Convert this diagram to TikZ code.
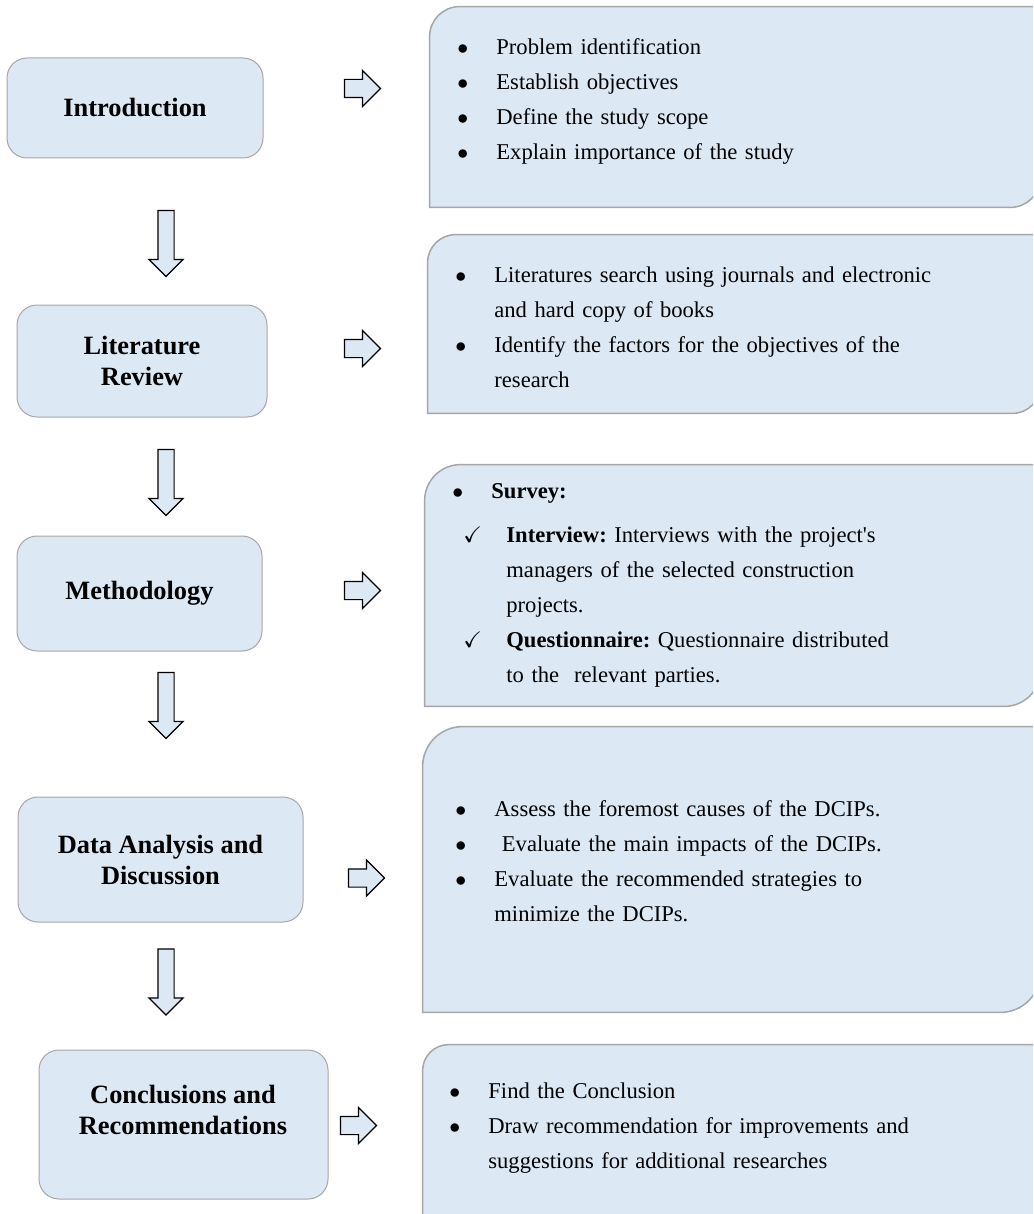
\documentclass[tikz,border=0pt]{standalone}
\usepackage{fontspec}
\setmainfont{Liberation Serif}
\usepackage{amssymb}
\usetikzlibrary{shapes.arrows}

\definecolor{boxfill}{HTML}{DDE8F5}
\definecolor{boxline}{HTML}{A6A6A6}

\newcommand{\bitem}[1]{\par\noindent\hangindent=19.5pt\hangafter=1\strut\makebox[19.5pt][l]{$\bullet$}#1}
\newcommand{\citem}[1]{\par\noindent\hangindent=27pt\hangafter=1\strut\makebox[27pt][l]{\hspace{5.5pt}$\checkmark$}#1}
\newcommand{\infoframe}[2]{%
	\draw[frame] ([yshift=-#2]#1.north west) arc[start angle=180,end angle=90,radius=#2]
		-- (#1.north east) -- ([yshift=#2]#1.south east) arc[start angle=0,end angle=-90,radius=#2]
		-- (#1.south west) -- cycle;}

\begin{document}
\begin{tikzpicture}[
	x=0.5pt, y=0.5pt,
	stage/.style={ rectangle, rounded corners=10pt, draw=boxline, line width=0.5pt, fill=boxfill, inner sep=0pt, align=center, font=\fontsize{13.2}{15.5}\selectfont\bfseries },
	stagetext/.style={ inner sep=0pt, align=center, font=\fontsize{13.2}{15.5}\selectfont\bfseries },
	infobox/.style={ rectangle, inner sep=0pt },
	frame/.style={ draw=boxline, line width=0.75pt, fill=boxfill },
	points/.style={ anchor=north west, inner sep=0pt, text width=280pt, align=left, font=\fontsize{11.3}{17.5}\selectfont\frenchspacing },
	downarrow/.style={ single arrow, draw, fill=boxfill, line width=0.6pt, rotate=-90, minimum height=33pt, inner xsep=0pt, inner ysep=3.75pt, single arrow head extend=4.5pt },
	rightarrow/.style={ single arrow, draw, fill=boxfill, line width=0.6pt, minimum height=18pt, inner xsep=0pt, inner ysep=4.25pt, single arrow head extend=4.5pt }
]
\clip (0,0) rectangle (1033,-1214);

% right hand boxes
\node at (735,-107) (info1) [infobox, minimum width=305pt, minimum height=100pt] {};
\node at (734,-324) (info2) [infobox, minimum width=306pt, minimum height=89pt] {};
\node at (732.5,-585.5) (info3) [infobox, minimum width=307.5pt, minimum height=120.5pt] {};
\node at (731.5,-869.5) (info4) [infobox, minimum width=308.5pt, minimum height=142.5pt] {};
\node at (731.5,-1147.5) (info5) [infobox, minimum width=308.5pt, minimum height=102.5pt] {};
\infoframe{info1}{15pt}
\infoframe{info2}{14pt}
\infoframe{info3}{18pt}
\infoframe{info4}{20pt}
\infoframe{info5}{13pt}

% left hand stages
\node at (135,-108) (intro) [stage, minimum width=128pt, minimum height=50pt] {Introduction};
\node at (142,-361) (litrev) [stage, minimum width=125pt, minimum height=56pt] {Literature\\Review};
\node at (139.5,-593.5) (method) [stage, minimum width=122.5pt, minimum height=57.5pt] {Methodology};
\node at (160.5,-859.5) (analysis) [stage, minimum width=142.5pt, minimum height=62.5pt] {Data Analysis and\\Discussion};
\node at (183.5,-1124.5) (concl) [stage, minimum width=144.5pt, minimum height=74.5pt] {};
\node at (183,-1110) (concltext) [stagetext] {Conclusions and\\Recommendations};

\foreach \y [count=\i] in {239.5,478.5,701.5,978}
	\node at (166,-\y) (down\i) [downarrow] {};
\foreach \x/\y [count=\i] in {358/88.5,358/348.5,358/590.5,362/878,354/1125.5}
	\node at (\x,-\y) (right\i) [rightarrow] {};

% texts of the boxes
\node at (457,-19.5) (list1) [points] {%
	\bitem{Problem identification}
	\bitem{Establish objectives}
	\bitem{Define the study scope}
	\bitem{Explain importance of the study}\par};
\node at (455,-247.5) (list2) [points] {%
	\bitem{Literatures search using journals and electronic\newline and hard copy of books}
	\bitem{Identify the factors for the objectives of the\newline research}\par};
\node at (452,-463.5) (list3) [points] {%
	\bitem{\textbf{Survey:}}\par\vspace{4.5pt}
	\citem{\textbf{Interview:} Interviews with the project\textquotesingle s\newline managers of the selected construction\newline projects.}
	\citem{\textbf{Questionnaire:} Questionnaire distributed\newline to the\ \ relevant parties.}\par};
\node at (455,-781.5) (list4) [points] {%
	\bitem{Assess the foremost causes of the DCIPs.}
	\bitem{\ Evaluate the main impacts of the DCIPs.}
	\bitem{Evaluate the recommended strategies to\newline minimize the DCIPs.}\par};
\node at (449,-1063.5) (list5) [points] {%
	\bitem{Find the Conclusion}
	\bitem{Draw recommendation for improvements and\newline suggestions for additional researches}\par};

\end{tikzpicture}
\end{document}
